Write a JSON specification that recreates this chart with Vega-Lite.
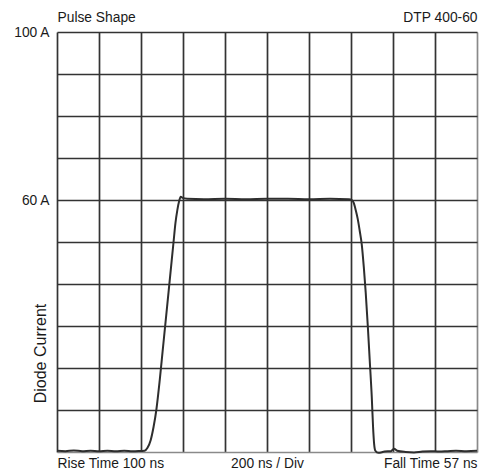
{
  "$schema": "https://vega.github.io/schema/vega-lite/v6.json",
  "width": 420,
  "height": 420,
  "autosize": "none",
  "padding": {"left": 57, "top": 32, "right": 13, "bottom": 20},
  "background": "white",
  "config": {
    "view": {"stroke": null},
    "font": "Liberation Sans",
    "axis": {"labelFont": "Liberation Sans", "titleFont": "Liberation Sans", "labelColor": "#1a1a1a", "titleColor": "#1a1a1a", "labelFontSize": 13.8, "titleFontSize": 13.8, "titleFontWeight": "normal", "labelOverlap": false, "labelBound": false, "labelFlush": false}
  },
  "data": {
    "values": [
      {"t": 0, "A": 0.3}, {"t": 40, "A": 0.2}, {"t": 80, "A": 0.35}, {"t": 120, "A": 0.2},
      {"t": 160, "A": 0.3}, {"t": 200, "A": 0.15}, {"t": 240, "A": 0.3}, {"t": 280, "A": 0.2},
      {"t": 320, "A": 0.3}, {"t": 360, "A": 0.15}, {"t": 400, "A": 0.25}, {"t": 417, "A": 0.3},
      {"t": 431, "A": 1.0}, {"t": 446, "A": 2.8}, {"t": 460, "A": 6}, {"t": 473, "A": 10},
      {"t": 489, "A": 17}, {"t": 503, "A": 24}, {"t": 517, "A": 31}, {"t": 532, "A": 38.5},
      {"t": 546, "A": 45.5}, {"t": 555, "A": 50}, {"t": 564, "A": 54.5}, {"t": 573, "A": 57.6},
      {"t": 582, "A": 59.8}, {"t": 589, "A": 60.8}, {"t": 598, "A": 60.5}, {"t": 620, "A": 60.3},
      {"t": 700, "A": 60.2}, {"t": 800, "A": 60.3}, {"t": 900, "A": 60.2}, {"t": 1000, "A": 60.3},
      {"t": 1100, "A": 60.3}, {"t": 1200, "A": 60.2}, {"t": 1300, "A": 60.3}, {"t": 1390, "A": 60.2},
      {"t": 1404, "A": 60.0}, {"t": 1413, "A": 59.3}, {"t": 1423, "A": 57.5}, {"t": 1432, "A": 55.5},
      {"t": 1442, "A": 52.5}, {"t": 1451, "A": 49.5}, {"t": 1461, "A": 44}, {"t": 1470, "A": 38},
      {"t": 1480, "A": 30}, {"t": 1489, "A": 22}, {"t": 1499, "A": 13}, {"t": 1505, "A": 6},
      {"t": 1510, "A": 2}, {"t": 1516, "A": 0.3}, {"t": 1530, "A": -0.2}, {"t": 1560, "A": 0.1},
      {"t": 1590, "A": 0.2}, {"t": 1605, "A": 0.8}, {"t": 1620, "A": 0.3}, {"t": 1660, "A": 0.0},
      {"t": 1700, "A": -0.1}, {"t": 1740, "A": 0.1}, {"t": 1780, "A": 0.2}, {"t": 1820, "A": 0.1},
      {"t": 1860, "A": 0.2}, {"t": 1900, "A": 0.3}, {"t": 1950, "A": 0.2}, {"t": 2000, "A": 0.3}
    ]
  },
  "layer": [
    {
      "mark": {"type": "line", "color": "#2e2e2e", "strokeWidth": 2, "interpolate": "monotone", "clip": false},
      "encoding": {
        "x": {
          "field": "t", "type": "quantitative",
          "scale": {"domain": [0, 2000], "nice": false, "zero": false},
          "axis": {
            "orient": "top",
            "values": [0, 200, 400, 600, 800, 1000, 1200, 1400, 1600, 1800, 2000],
            "grid": true, "ticks": false, "domain": false, "title": null,
            "labelExpr": "datum.value == 0 ? 'Pulse Shape' : datum.value == 2000 ? 'DTP 400-60' : ''",
            "labelAlign": {"condition": {"test": "datum.value == 0", "value": "left"}, "value": "right"},
            "labelPadding": 8,
            "gridColor": {"condition": {"test": "datum.value == 2000", "value": "#8a8a8a"}, "value": "#333333"},
            "gridWidth": 1.7, "gridOpacity": 1
          }
        },
        "y": {
          "field": "A", "type": "quantitative",
          "scale": {"domain": [0, 100], "nice": false, "zero": false},
          "axis": {
            "orient": "left",
            "values": [0, 10, 20, 30, 40, 50, 60, 70, 80, 90, 100],
            "grid": true, "ticks": false, "domain": false,
            "labelExpr": "datum.value == 100 ? '100 A' : datum.value == 60 ? '60 A' : ''",
            "labelPadding": 8, "labelBaseline": "middle",
            "gridColor": {"condition": {"test": "datum.value == 0", "value": "#8a8a8a"}, "value": "#333333"},
            "gridWidth": 1.7, "gridOpacity": 1,
            "title": "Diode Current", "titleFontSize": 16,
            "titleAngle": -90, "titleAlign": "center", "titleBaseline": "middle",
            "titleX": -17, "titleY": 321
          }
        }
      }
    },
    {
      "mark": {"type": "line", "opacity": 0},
      "encoding": {
        "x": {
          "field": "t", "type": "quantitative",
          "axis": {
            "orient": "bottom",
            "values": [0, 2000],
            "grid": false, "ticks": false, "domain": false,
            "labelExpr": "datum.value == 0 ? 'Rise Time 100 ns' : 'Fall Time 57 ns'",
            "labelAlign": {"condition": {"test": "datum.value == 0", "value": "left"}, "value": "right"},
            "labelPadding": 4,
            "title": "200 ns / Div", "titleBaseline": "top", "titleAlign": "center",
            "titleX": 210, "titleY": 4
          }
        },
        "y": {"field": "A", "type": "quantitative", "axis": null}
      }
    }
  ],
  "resolve": {"axis": {"x": "independent", "y": "independent"}}
}
